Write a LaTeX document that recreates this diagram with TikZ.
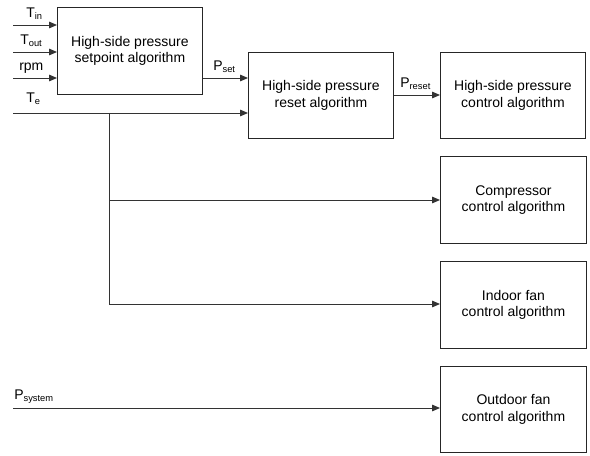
\documentclass[tikz,border=0pt]{standalone}
\usepackage{fontspec}
\setmainfont{Liberation Sans}
\usetikzlibrary{arrows.meta}
\newcommand{\sbs}[1]{\raisebox{-0.2ex}{\fontsize{7}{8}\selectfont #1}}
\begin{document}
\begin{tikzpicture}[x=0.75pt,y=-0.75pt,
  blk/.style={draw=black!85,line width=0.7pt,inner sep=0pt,align=center,font=\fontsize{10.5}{12.6}\selectfont},
  sig/.style={draw=black!80,line width=0.7pt,-{Triangle[length=6pt,width=5pt]}},
  lbl/.style={inner sep=0pt,font=\fontsize{10.5}{12.6}\selectfont}]
\useasboundingbox (0,0) rectangle (590,456);
% boxes
\node[blk,minimum width=108.75pt,minimum height=65.25pt,anchor=north west] (sp) at (57,7) {High-side pressure\\setpoint algorithm};
\node[blk,minimum width=108.75pt,minimum height=64.5pt,anchor=north west] (rs) at (248,52) {High-side pressure\\reset algorithm};
\node[blk,minimum width=108.75pt,minimum height=64.5pt,anchor=north west] (hc) at (440,52) {High-side pressure\\control algorithm};
\node[blk,minimum width=109.5pt,minimum height=65.25pt,anchor=north west] (cc) at (440,156) {Compressor\\control algorithm};
\node[blk,minimum width=109.5pt,minimum height=65.25pt,anchor=north west] (ic) at (440,261) {Indoor fan\\control algorithm};
\node[blk,minimum width=109.5pt,minimum height=64.5pt,anchor=north west] (oc) at (440,366) {Outdoor fan\\control algorithm};
% input coordinates
\coordinate (tin) at (13,25);
\coordinate (tout) at (13,52);
\coordinate (rpm) at (13,78);
\coordinate (te) at (13,113);
\coordinate (br) at (109,113);
\coordinate (ps) at (13,408);
% inputs
\draw[sig] (tin) -- (tin -| sp.west);
\draw[sig] (tout) -- (tout -| sp.west);
\draw[sig] (rpm) -- (rpm -| sp.west);
\draw[sig] (te) -- (te -| rs.west);
\draw[sig] (sp.east |- 0,78) -- (rs.west |- 0,78);
\draw[sig] (rs.east |- 0,95) -- (hc.west |- 0,95);
\draw[draw=black!80,line width=0.7pt] (br) -- (br |- 0,304);
\draw[sig] (br |- 0,200) -- (cc.west |- 0,200);
\draw[sig] (br |- 0,304) -- (ic.west |- 0,304);
\draw[sig] (ps) -- (ps -| oc.west);
% labels
\node[lbl,anchor=base west] (ltin) at (26,18) {T\sbs{in}};
\node[lbl,anchor=base west] (ltout) at (20,45) {T\sbs{out}};
\node[lbl,anchor=base west] (lrpm) at (19,71) {rpm};
\node[lbl,anchor=base west] (lte) at (26,103) {T\sbs{e}};
\node[lbl,anchor=base west] (lpset) at (213,71) {P\sbs{set}};
\node[lbl,anchor=base west] (lpreset) at (400,88) {P\sbs{reset}};
\node[lbl,anchor=base west] (lpsys) at (14,400) {P\sbs{system}};
\end{tikzpicture}
\end{document}
